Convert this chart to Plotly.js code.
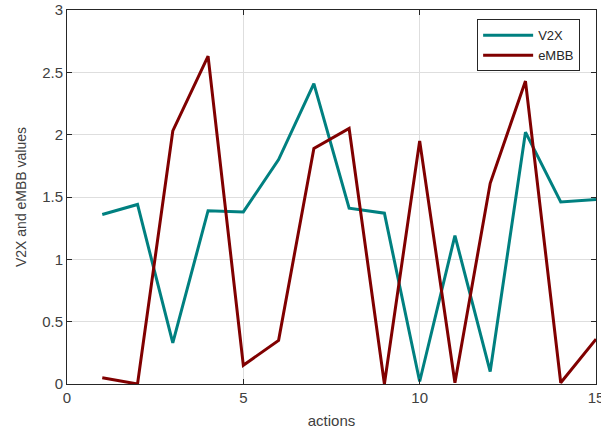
<!DOCTYPE html>
<html><head><meta charset="utf-8">
<script src="https://cdn.plot.ly/plotly-3.0.1.min.js"></script>
<style>html,body{margin:0;padding:0;background:#fff}#c{width:601px;height:432px}</style>
</head><body><div id="c"></div>
<script>
const actions = [1,2,3,4,5,6,7,8,9,10,11,12,13,14,15];
const v2x = [1.36,1.44,0.33,1.39,1.38,1.80,2.41,1.41,1.37,0.02,1.19,0.10,2.02,1.46,1.48];
const embb = [0.05,0.00,2.03,2.63,0.15,0.35,1.89,2.05,0.00,1.95,0.01,1.61,2.43,0.01,0.36];
const xTicks = [0,5,10,15];
const yTicks = [0,0.5,1,1.5,2,2.5,3];
const axisCommon = {
  showline:true, mirror:'ticks', linecolor:'#262626', linewidth:1,
  ticks:'inside', ticklen:5, tickcolor:'#262626',
  showgrid:true, gridcolor:'#dedede', gridwidth:1, zeroline:false,
  ticklabeloverflow:'allow',
  tickfont:{family:'Liberation Sans, Arial, sans-serif', size:15, color:'#404040'}
};
const data = [
  {x:actions, y:v2x, name:'V2X', type:'scatter', mode:'lines', line:{color:'#008080', width:3}},
  {x:actions, y:embb, name:'eMBB', type:'scatter', mode:'lines', line:{color:'#800000', width:3}}
];
const layout = {
  width:601, height:432,
  margin:{l:67, r:5, t:10, b:48},
  paper_bgcolor:'#fff', plot_bgcolor:'#fff',
  showlegend:true,
  legend:{x:0.97, y:0.975, xanchor:'right', yanchor:'top', bgcolor:'#fff', bordercolor:'#262626', borderwidth:1,
    font:{family:'Liberation Sans, Arial, sans-serif', size:13, color:'#262626'}, tracegroupgap:0, itemwidth:50},
  xaxis:Object.assign({}, axisCommon, {range:[0,15], tickvals:xTicks, ticktext:xTicks.map(String),
    title:{text:'actions', font:{family:'Liberation Sans, Arial, sans-serif', size:15, color:'#404040'}, standoff:10}}),
  yaxis:Object.assign({}, axisCommon, {range:[0,3], tickvals:yTicks, ticktext:yTicks.map(String),
    title:{text:'V2X and eMBB values', font:{family:'Liberation Sans, Arial, sans-serif', size:14, color:'#404040'}, standoff:12}})
};
Plotly.newPlot('c', data, layout, {displayModeBar:false, staticPlot:true});
</script></body></html>
